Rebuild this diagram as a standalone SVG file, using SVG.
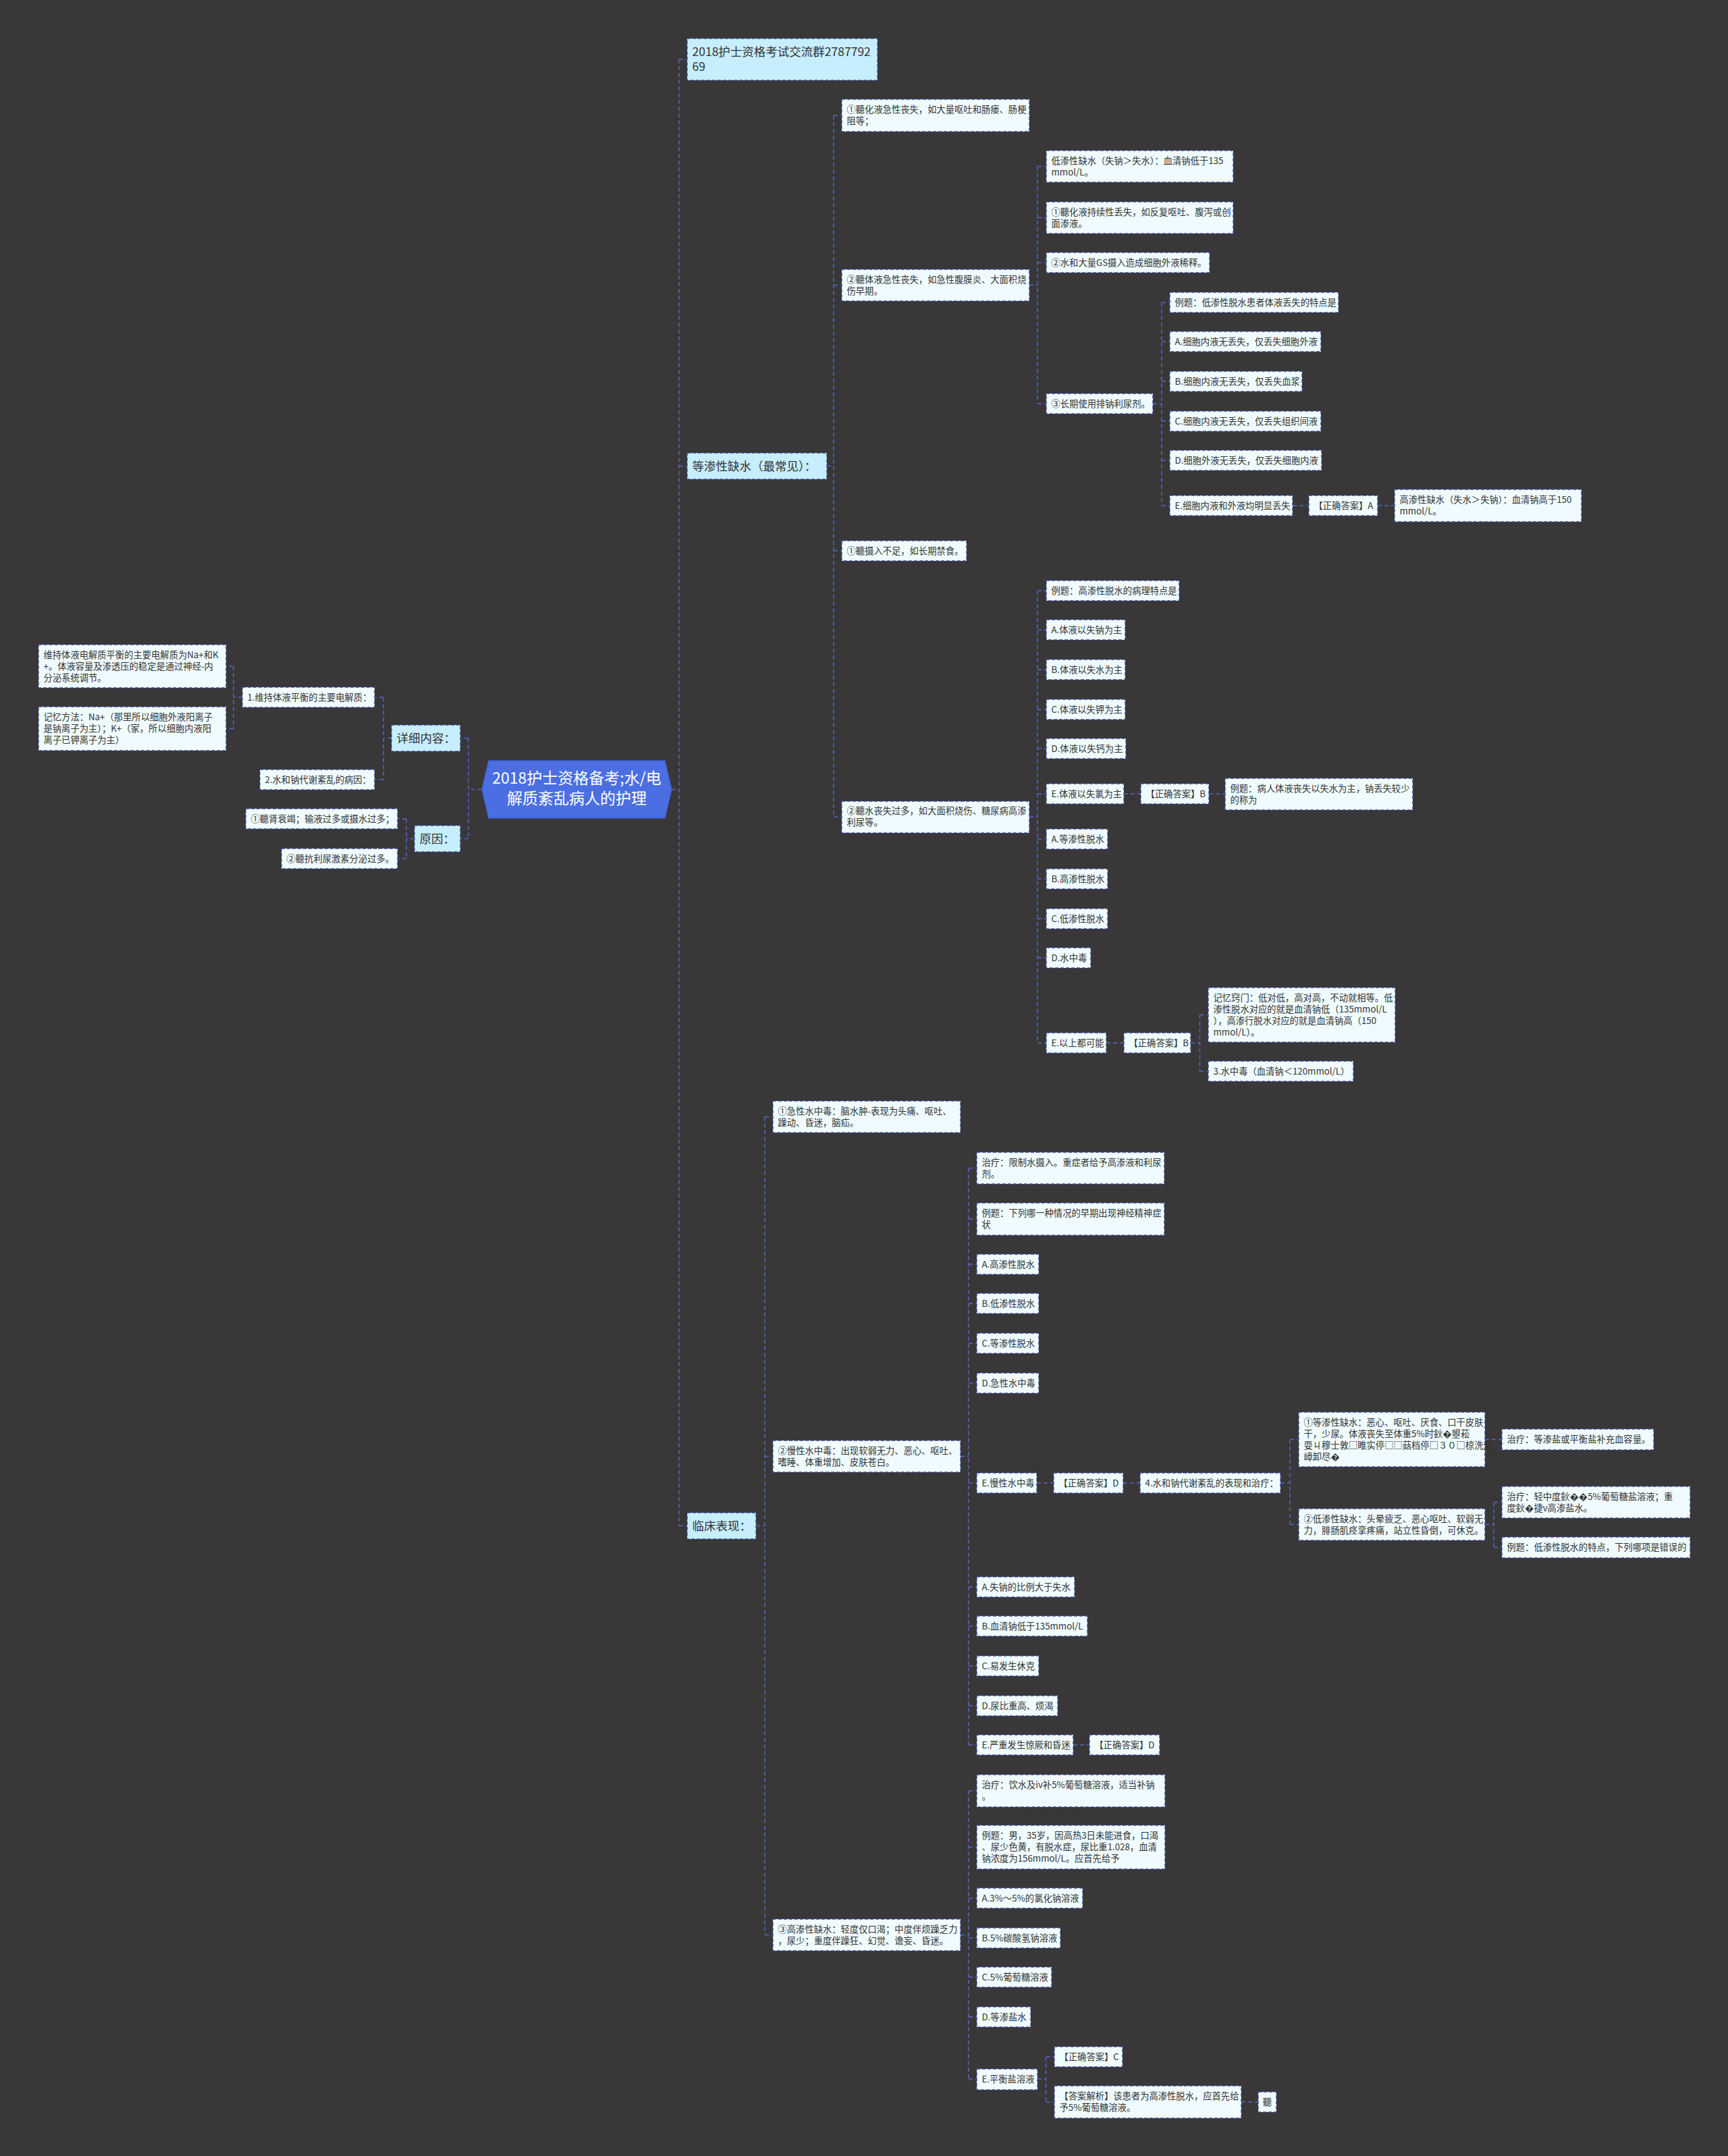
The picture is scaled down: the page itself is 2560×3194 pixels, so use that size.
<svg xmlns="http://www.w3.org/2000/svg" width="2560" height="3194" viewBox="0 0 2560 3194">
<style>
.bg{fill:#393738}
.n rect{fill:#effbfe;stroke:#3b4a93;stroke-width:1.4;stroke-dasharray:5 3}
.n.l1 rect{fill:#c6eefc}
.n text{font-family:"Noto Sans CJK SC","Noto Sans",sans-serif;font-size:13.3px;fill:#333}
.n.l1 text{font-size:17.5px}
.root polygon{fill:#4b6fe3;stroke:#3f60d4;stroke-width:1.5}
.root text{font-family:"Noto Sans CJK SC","Noto Sans",sans-serif;font-size:23px;fill:#ffffff;text-anchor:middle}
.c path{fill:none;stroke:#5468c4;stroke-width:1.5;stroke-dasharray:6 4}
</style>
<rect class="bg" x="0" y="0" width="2560" height="3194"/>
<g id="connectors" class="c">
<path d="M714 1169.5 H694 M694 1093.5 V1242.5 M694 1093.5 H682 M694 1242.5 H682"/>
<path d="M580 1093.5 H568 M568 1033 V1155 M568 1033 H555 M568 1155 H555"/>
<path d="M359 1033 H346 M346 987 V1079.5 M346 987 H335 M346 1079.5 H335"/>
<path d="M614 1242.5 H602 M602 1213 V1272 M602 1213 H589 M602 1272 H589"/>
<path d="M995 1169.5 H1006 M1006 88 V2260.5 M1006 88 H1018 M1006 690.5 H1018 M1006 2260.5 H1018"/>
<path d="M1225 690.5 H1235 M1235 171 V1210 M1235 171 H1247 M1235 422.5 H1247 M1235 816 H1247 M1235 1210 H1247"/>
<path d="M1525 422.5 H1537 M1537 246.5 V598 M1537 246.5 H1550 M1537 322.5 H1550 M1537 389 H1550 M1537 598 H1550"/>
<path d="M1708 598 H1721 M1721 448 V749 M1721 448 H1733 M1721 506 H1733 M1721 565 H1733 M1721 624 H1733 M1721 682 H1733 M1721 749 H1733"/>
<path d="M1915 749 H1939 M2041 749 H2066"/>
<path d="M1525 1210 H1537 M1537 875 V1545 M1537 875 H1550 M1537 933 H1550 M1537 992 H1550 M1537 1051 H1550 M1537 1109 H1550 M1537 1176 H1550 M1537 1243 H1550 M1537 1302 H1550 M1537 1361 H1550 M1537 1419 H1550 M1537 1545 H1550"/>
<path d="M1665 1176 H1690 M1791 1176 H1815"/>
<path d="M1639 1545 H1665 M1764 1545 H1777.5 M1777.5 1503.5 V1587 M1777.5 1503.5 H1790 M1777.5 1587 H1790"/>
<path d="M1120 2260.5 H1133 M1133 1654.5 V2866.5 M1133 1654.5 H1145 M1133 2157.5 H1145 M1133 2866.5 H1145"/>
<path d="M1423 2157.5 H1435 M1435 1730.5 V2585 M1435 1730.5 H1447 M1435 1806 H1447 M1435 1873 H1447 M1435 1931 H1447 M1435 1990 H1447 M1435 2049 H1447 M1435 2197 H1447 M1435 2351 H1447 M1435 2409 H1447 M1435 2468 H1447 M1435 2527 H1447 M1435 2585 H1447"/>
<path d="M1536 2197 H1561 M1664 2197 H1689"/>
<path d="M1897 2197 H1911 M1911 2132.5 V2258.5 M1911 2132.5 H1924 M1911 2258.5 H1924"/>
<path d="M2200 2132.5 H2225"/>
<path d="M2200 2258.5 H2213 M2213 2225.5 V2292.5 M2213 2225.5 H2225 M2213 2292.5 H2225"/>
<path d="M1590 2585 H1614"/>
<path d="M1423 2866.5 H1435 M1435 2653 V3080 M1435 2653 H1447 M1435 2736.5 H1447 M1435 2812 H1447 M1435 2871 H1447 M1435 2929 H1447 M1435 2988 H1447 M1435 3080 H1447"/>
<path d="M1537 3080 H1549.5 M1549.5 3047 V3114 M1549.5 3047 H1562 M1549.5 3114 H1562"/>
<path d="M1839 3114 H1864"/>
</g>
<g id="root" class="root">
<polygon points="724,1127 985,1127 995,1169.5 985,1212 724,1212 714,1169.5"/>
<text x="854.5" y="1161">2018护士资格备考;水/电</text>
<text x="854.5" y="1191">解质紊乱病人的护理</text>
</g>
<g id="n_detail" class="n l1"><rect x="580" y="1074" width="102" height="39"/><text x="587.5" y="1100">详细内容：</text></g>
<g id="n_cause" class="n l1"><rect x="614" y="1223" width="68" height="39"/><text x="621.5" y="1249">原因：</text></g>
<g id="n_l1" class="n"><rect x="359" y="1018" width="196" height="30"/><text x="366.5" y="1037.7">1.维持体液平衡的主要电解质：</text></g>
<g id="n_l2" class="n"><rect x="385" y="1140" width="170" height="30"/><text x="392.5" y="1159.7">2.水和钠代谢紊乱的病因：</text></g>
<g id="n_l3" class="n"><rect x="57" y="955" width="278" height="64"/><text x="64.5" y="974.7">维持体液电解质平衡的主要电解质为Na+和K</text><text x="64.5" y="991.7">+。体液容量及渗透压的稳定是通过神经-内</text><text x="64.5" y="1008.7">分泌系统调节。</text></g>
<g id="n_l4" class="n"><rect x="57" y="1047" width="278" height="65"/><text x="64.5" y="1067.2">记忆方法：Na+（那里所以细胞外液阳离子</text><text x="64.5" y="1084.2">是钠离子为主）；K+（家，所以细胞内液阳</text><text x="64.5" y="1101.2">离子已钾离子为主）</text></g>
<g id="n_c1" class="n"><rect x="364" y="1198" width="225" height="30"/><text x="371.5" y="1217.7">①聽肾衰竭；输液过多或摄水过多；</text></g>
<g id="n_c2" class="n"><rect x="417" y="1257" width="172" height="30"/><text x="424.5" y="1276.7">②聽抗利尿激素分泌过多。</text></g>
<g id="n_group" class="n l1"><rect x="1018" y="57" width="282" height="62"/><text x="1025.5" y="82.5">2018护士资格考试交流群2787792</text><text x="1025.5" y="104.5">69</text></g>
<g id="n_iso" class="n l1"><rect x="1018" y="671" width="207" height="39"/><text x="1025.5" y="697">等渗性缺水（最常见）：</text></g>
<g id="n_clin" class="n l1"><rect x="1018" y="2241" width="102" height="39"/><text x="1025.5" y="2267">临床表现：</text></g>
<g id="n_a1" class="n"><rect x="1247" y="147" width="278" height="48"/><text x="1254.5" y="167.2">①聽化液急性丧失，如大量呕吐和肠瘘、肠梗</text><text x="1254.5" y="184.2">阻等；</text></g>
<g id="n_a2" class="n"><rect x="1247" y="399" width="278" height="47"/><text x="1254.5" y="418.7">②聽体液急性丧失，如急性腹膜炎、大面积烧</text><text x="1254.5" y="435.7">伤早期。</text></g>
<g id="n_a3" class="n"><rect x="1247" y="801" width="185" height="30"/><text x="1254.5" y="820.7">①聽摄入不足，如长期禁食。</text></g>
<g id="n_a4" class="n"><rect x="1247" y="1187" width="278" height="47"/><text x="1254.5" y="1206.2">②聽水丧失过多，如大面积烧伤、糖尿病高渗</text><text x="1254.5" y="1223.2">利尿等。</text></g>
<g id="n_b1" class="n"><rect x="1550" y="223" width="277" height="47"/><text x="1557.5" y="242.7">低渗性缺水（失钠＞失水）：血清钠低于135</text><text x="1557.5" y="259.7">mmol/L。</text></g>
<g id="n_b2" class="n"><rect x="1550" y="299" width="277" height="47"/><text x="1557.5" y="318.7">①聽化液持续性丢失，如反复呕吐、腹泻或创</text><text x="1557.5" y="335.7">面渗液。</text></g>
<g id="n_b3" class="n"><rect x="1550" y="374" width="242" height="30"/><text x="1557.5" y="393.7">②水和大量GS摄入造成细胞外液稀释。</text></g>
<g id="n_b4" class="n"><rect x="1550" y="583" width="158" height="30"/><text x="1557.5" y="602.7">③长期使用排钠利尿剂。</text></g>
<g id="n_q1" class="n"><rect x="1733" y="433" width="250" height="30"/><text x="1740.5" y="452.7">例题：低渗性脱水患者体液丢失的特点是</text></g>
<g id="n_q1a" class="n"><rect x="1733" y="491" width="224" height="30"/><text x="1740.5" y="510.7">A.细胞内液无丢失，仅丢失细胞外液</text></g>
<g id="n_q1b" class="n"><rect x="1733" y="550" width="196" height="30"/><text x="1740.5" y="569.7">B.细胞内液无丢失，仅丢失血浆</text></g>
<g id="n_q1c" class="n"><rect x="1733" y="609" width="224" height="30"/><text x="1740.5" y="628.7">C.细胞内液无丢失，仅丢失组织间液</text></g>
<g id="n_q1d" class="n"><rect x="1733" y="667" width="225" height="30"/><text x="1740.5" y="686.7">D.细胞外液无丢失，仅丢失细胞内液</text></g>
<g id="n_q1e" class="n"><rect x="1733" y="734" width="182" height="30"/><text x="1740.5" y="753.7">E.细胞内液和外液均明显丢失</text></g>
<g id="n_q1ans" class="n"><rect x="1939" y="734" width="102" height="30"/><text x="1946.5" y="753.7">【正确答案】A</text></g>
<g id="n_hyper" class="n"><rect x="2066" y="725" width="277" height="48"/><text x="2073.5" y="745.2">高渗性缺水（失水＞失钠）：血清钠高于150</text><text x="2073.5" y="762.2">mmol/L。</text></g>
<g id="n_q2" class="n"><rect x="1550" y="860" width="197" height="30"/><text x="1557.5" y="879.7">例题：高渗性脱水的病理特点是</text></g>
<g id="n_q2a" class="n"><rect x="1550" y="918" width="117" height="30"/><text x="1557.5" y="937.7">A.体液以失钠为主</text></g>
<g id="n_q2b" class="n"><rect x="1550" y="977" width="117" height="30"/><text x="1557.5" y="996.7">B.体液以失水为主</text></g>
<g id="n_q2c" class="n"><rect x="1550" y="1036" width="117" height="30"/><text x="1557.5" y="1055.7">C.体液以失钾为主</text></g>
<g id="n_q2d" class="n"><rect x="1550" y="1094" width="118" height="30"/><text x="1557.5" y="1113.7">D.体液以失钙为主</text></g>
<g id="n_q2e" class="n"><rect x="1550" y="1161" width="115" height="30"/><text x="1557.5" y="1180.7">E.体液以失氯为主</text></g>
<g id="n_q2ans" class="n"><rect x="1690" y="1161" width="101" height="30"/><text x="1697.5" y="1180.7">【正确答案】B</text></g>
<g id="n_q3" class="n"><rect x="1815" y="1153" width="278" height="47"/><text x="1822.5" y="1172.7">例题：病人体液丧失以失水为主，钠丢失较少</text><text x="1822.5" y="1189.7">的称为</text></g>
<g id="n_q3a" class="n"><rect x="1550" y="1228" width="91" height="30"/><text x="1557.5" y="1247.7">A.等渗性脱水</text></g>
<g id="n_q3b" class="n"><rect x="1550" y="1287" width="91" height="30"/><text x="1557.5" y="1306.7">B.高渗性脱水</text></g>
<g id="n_q3c" class="n"><rect x="1550" y="1346" width="91" height="30"/><text x="1557.5" y="1365.7">C.低渗性脱水</text></g>
<g id="n_q3d" class="n"><rect x="1550" y="1404" width="66" height="30"/><text x="1557.5" y="1423.7">D.水中毒</text></g>
<g id="n_q3e" class="n"><rect x="1550" y="1530" width="89" height="30"/><text x="1557.5" y="1549.7">E.以上都可能</text></g>
<g id="n_q3ans" class="n"><rect x="1665" y="1530" width="99" height="30"/><text x="1672.5" y="1549.7">【正确答案】B</text></g>
<g id="n_mem" class="n"><rect x="1790" y="1463" width="277" height="81"/><text x="1797.5" y="1482.7">记忆窍门：低对低，高对高，不动就相等。低</text><text x="1797.5" y="1499.7">渗性脱水对应的就是血清钠低（135mmol/L</text><text x="1797.5" y="1516.7">），高渗行脱水对应的就是血清钠高（150</text><text x="1797.5" y="1533.7">mmol/L）。</text></g>
<g id="n_wint" class="n"><rect x="1790" y="1572" width="215" height="30"/><text x="1797.5" y="1591.7">3.水中毒（血清钠＜120mmol/L）</text></g>
<g id="n_d1" class="n"><rect x="1145" y="1631" width="278" height="47"/><text x="1152.5" y="1650.7">①急性水中毒：脑水肿-表现为头痛、呕吐、</text><text x="1152.5" y="1667.7">躁动、昏迷，脑疝。</text></g>
<g id="n_d2" class="n"><rect x="1145" y="2134" width="278" height="47"/><text x="1152.5" y="2153.7">②慢性水中毒：出现软弱无力、恶心、呕吐、</text><text x="1152.5" y="2170.7">嗜睡、体重增加、皮肤苍白。</text></g>
<g id="n_d3" class="n"><rect x="1145" y="2843" width="278" height="47"/><text x="1152.5" y="2862.7">③高渗性缺水：轻度仅口渴；中度伴烦躁乏力</text><text x="1152.5" y="2879.7">，尿少；重度伴躁狂、幻觉、谵妄、昏迷。</text></g>
<g id="n_e1" class="n"><rect x="1447" y="1707" width="278" height="47"/><text x="1454.5" y="1726.7">治疗：限制水摄入。重症者给予高渗液和利尿</text><text x="1454.5" y="1743.7">剂。</text></g>
<g id="n_e2" class="n"><rect x="1447" y="1782" width="278" height="48"/><text x="1454.5" y="1802.2">例题：下列哪一种情况的早期出现神经精神症</text><text x="1454.5" y="1819.2">状</text></g>
<g id="n_e3" class="n"><rect x="1447" y="1858" width="92" height="30"/><text x="1454.5" y="1877.7">A.高渗性脱水</text></g>
<g id="n_e4" class="n"><rect x="1447" y="1916" width="92" height="30"/><text x="1454.5" y="1935.7">B.低渗性脱水</text></g>
<g id="n_e5" class="n"><rect x="1447" y="1975" width="92" height="30"/><text x="1454.5" y="1994.7">C.等渗性脱水</text></g>
<g id="n_e6" class="n"><rect x="1447" y="2034" width="92" height="30"/><text x="1454.5" y="2053.7">D.急性水中毒</text></g>
<g id="n_e7" class="n"><rect x="1447" y="2182" width="89" height="30"/><text x="1454.5" y="2201.7">E.慢性水中毒</text></g>
<g id="n_e7ans" class="n"><rect x="1561" y="2182" width="103" height="30"/><text x="1568.5" y="2201.7">【正确答案】D</text></g>
<g id="n_e7sub" class="n"><rect x="1689" y="2182" width="208" height="30"/><text x="1696.5" y="2201.7">4.水和钠代谢紊乱的表现和治疗：</text></g>
<g id="n_f1" class="n"><rect x="1924" y="2092" width="276" height="81"/><text x="1931.5" y="2111.7">①等渗性缺水：恶心、呕吐、厌食、口干皮肤</text><text x="1931.5" y="2128.7">干，少尿。体液丧失至体重5%时鈥�曌菘</text><text x="1931.5" y="2145.7">耍ㄐ穆士敦□睢实停□□菇档停□３０□椋洗运</text><text x="1931.5" y="2162.7">嶂卸尽�</text></g>
<g id="n_f1t" class="n"><rect x="2225" y="2117" width="225" height="31"/><text x="2232.5" y="2137.2">治疗：等渗盐或平衡盐补充血容量。</text></g>
<g id="n_f2" class="n"><rect x="1924" y="2235" width="276" height="47"/><text x="1931.5" y="2254.7">②低渗性缺水：头晕疲乏、恶心呕吐、软弱无</text><text x="1931.5" y="2271.7">力，腓肠肌痉挛疼痛，站立性昏倒，可休克。</text></g>
<g id="n_f2t" class="n"><rect x="2225" y="2202" width="279" height="47"/><text x="2232.5" y="2221.7">治疗：轻中度鈥��5%葡萄糖盐溶液；重</text><text x="2232.5" y="2238.7">度鈥�捷v高渗盐水。</text></g>
<g id="n_f2q" class="n"><rect x="2225" y="2277" width="279" height="31"/><text x="2232.5" y="2297.2">例题：低渗性脱水的特点，下列哪项是错误的</text></g>
<g id="n_e8" class="n"><rect x="1447" y="2336" width="145" height="30"/><text x="1454.5" y="2355.7">A.失钠的比例大于失水</text></g>
<g id="n_e9" class="n"><rect x="1447" y="2394" width="164" height="30"/><text x="1454.5" y="2413.7">B.血清钠低于135mmol/L</text></g>
<g id="n_e10" class="n"><rect x="1447" y="2453" width="92" height="30"/><text x="1454.5" y="2472.7">C.易发生休克</text></g>
<g id="n_e11" class="n"><rect x="1447" y="2512" width="120" height="30"/><text x="1454.5" y="2531.7">D.尿比重高、烦渴</text></g>
<g id="n_e12" class="n"><rect x="1447" y="2570" width="143" height="30"/><text x="1454.5" y="2589.7">E.严重发生惊厥和昏迷</text></g>
<g id="n_e12ans" class="n"><rect x="1614" y="2570" width="104" height="30"/><text x="1621.5" y="2589.7">【正确答案】D</text></g>
<g id="n_g1" class="n"><rect x="1447" y="2629" width="279" height="48"/><text x="1454.5" y="2649.2">治疗：饮水及iv补5%葡萄糖溶液，适当补钠</text><text x="1454.5" y="2666.2">。</text></g>
<g id="n_g2" class="n"><rect x="1447" y="2704" width="279" height="65"/><text x="1454.5" y="2724.2">例题：男，35岁，因高热3日未能进食，口渴</text><text x="1454.5" y="2741.2">、尿少色黄，有脱水症，尿比重1.028，血清</text><text x="1454.5" y="2758.2">钠浓度为156mmol/L。应首先给予</text></g>
<g id="n_g3" class="n"><rect x="1447" y="2797" width="157" height="30"/><text x="1454.5" y="2816.7">A.3%～5%的氯化钠溶液</text></g>
<g id="n_g4" class="n"><rect x="1447" y="2856" width="124" height="30"/><text x="1454.5" y="2875.7">B.5%碳酸氢钠溶液</text></g>
<g id="n_g5" class="n"><rect x="1447" y="2914" width="111" height="30"/><text x="1454.5" y="2933.7">C.5%葡萄糖溶液</text></g>
<g id="n_g6" class="n"><rect x="1447" y="2973" width="80" height="30"/><text x="1454.5" y="2992.7">D.等渗盐水</text></g>
<g id="n_g7" class="n"><rect x="1447" y="3065" width="90" height="31"/><text x="1454.5" y="3085.2">E.平衡盐溶液</text></g>
<g id="n_g7a" class="n"><rect x="1562" y="3032" width="101" height="30"/><text x="1569.5" y="3051.7">【正确答案】C</text></g>
<g id="n_g7b" class="n"><rect x="1562" y="3090" width="277" height="48"/><text x="1569.5" y="3110.2">【答案解析】该患者为高渗性脱水，应首先给</text><text x="1569.5" y="3127.2">予5%葡萄糖溶液。</text></g>
<g id="n_g7c" class="n"><rect x="1864" y="3099" width="27" height="30"/><text x="1870.8" y="3118.7">聽</text></g>
</svg>
